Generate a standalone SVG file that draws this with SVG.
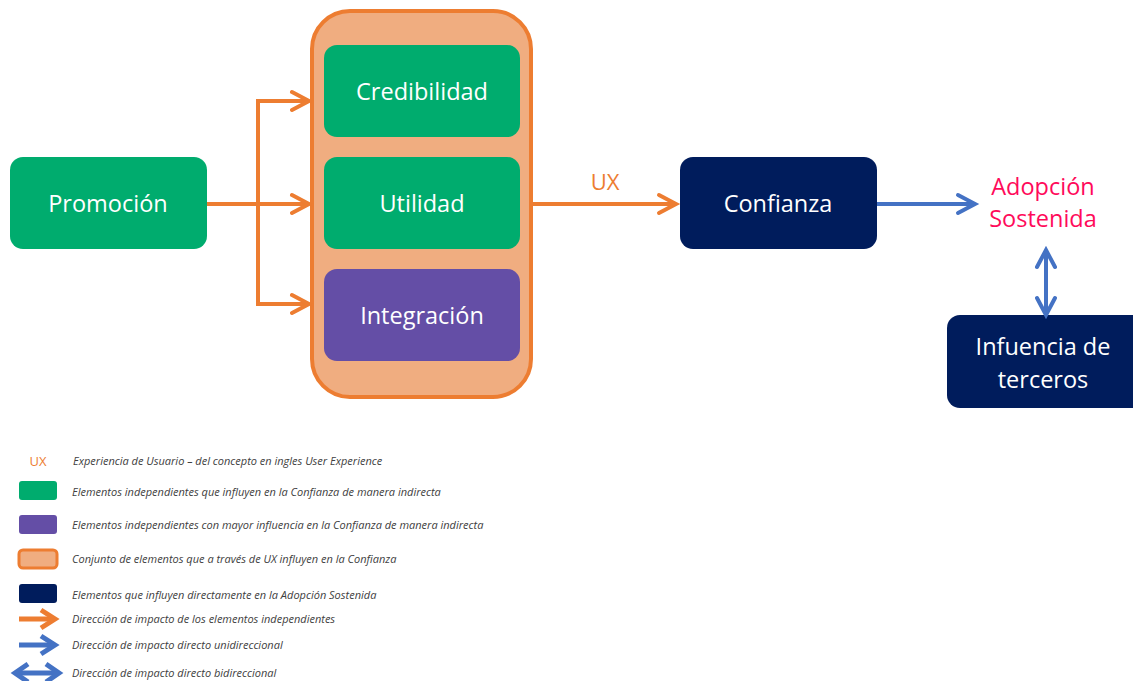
<svg xmlns="http://www.w3.org/2000/svg" width="1133" height="681" viewBox="0 0 1133 681">
<style>
.lbl{font-family:"Open Sans","Noto Sans",sans-serif;font-size:23.5px;fill:#fff;text-anchor:middle}
.green{fill:#00AC6E}
.purple{fill:#644EA6}
.navy{fill:#001C5C}
.leg{font-family:"Open Sans","Noto Sans",sans-serif;font-size:11px;font-style:italic;fill:#404040}
.oarr{stroke:#ED7D31;stroke-width:4;fill:none}
.barr{stroke:#4472C4;stroke-width:4;fill:none}
</style>
<rect width="1133" height="681" fill="#fff"/>
<g id="contenedor">
<rect x="312" y="11" width="219" height="386" rx="38" fill="#F0AD80" stroke="#ED7D31" stroke-width="4"/>
</g>
<g id="credibilidad"><rect x="324" y="45" width="196" height="92" rx="13" class="green"/><text x="422" y="100" class="lbl">Credibilidad</text></g>
<g id="utilidad"><rect x="324" y="157" width="196" height="92" rx="13" class="green"/><text x="422" y="212" class="lbl">Utilidad</text></g>
<g id="integracion"><rect x="324" y="269" width="196" height="92" rx="13" class="purple"/><text x="422" y="324" class="lbl">Integración</text></g>
<g id="promocion"><rect x="10" y="157" width="197" height="92" rx="13" class="green"/><text x="108" y="212" class="lbl">Promoción</text></g>
<g id="confianza"><rect x="680" y="157" width="197" height="92" rx="13" class="navy"/><text x="778" y="212" class="lbl">Confianza</text></g>
<g id="adopcion"><text x="1043" y="195" class="lbl" style="fill:#FF0A5A">Adopción</text><text x="1043" y="227" class="lbl" style="fill:#FF0A5A">Sostenida</text></g>
<g id="influencia"><rect x="947" y="315" width="200" height="93" rx="13" class="navy"/><text x="1043" y="355" class="lbl">Infuencia de</text><text x="1043" y="388" class="lbl">terceros</text></g>
<g id="connectors">
<path class="oarr" d="M207,204 H309 M258,204 V101 H309 M258,204 V304 H309"/>
<path class="oarr" stroke-linecap="round" d="M292,92 L309,101 L292,110 M292,195 L309,204 L292,213 M292,295 L309,304 L292,313"/>
<path class="oarr" d="M532,204 H676"/>
<path class="oarr" stroke-linecap="round" d="M659,195 L676,204 L659,213"/>
<text x="605" y="190" style="font-family:'Open Sans','Noto Sans',sans-serif;font-size:22px;fill:#ED7D31;text-anchor:middle">UX</text>
<path class="barr" d="M877,204 H975"/>
<path class="barr" stroke-linecap="round" d="M958,195 L975,204 L958,213"/>
<path class="barr" d="M1046,252 V313"/>
<path class="barr" stroke-linecap="round" d="M1037,267 L1046,250 L1055,267 M1037,298 L1046,315 L1055,298"/>
</g>
<g id="legend">
<text x="38" y="466" text-anchor="middle" style="font-family:'Open Sans','Noto Sans',sans-serif;font-size:13px;fill:#ED7D31">UX</text>
<text x="73" y="465" class="leg">Experiencia de Usuario – del concepto en ingles User Experience</text>
<rect x="19" y="481" width="38" height="19" rx="3" class="green"/>
<text x="72" y="496" class="leg">Elementos independientes que influyen en la Confianza de manera indirecta</text>
<rect x="19" y="515" width="38" height="19" rx="3" class="purple"/>
<text x="72" y="529" class="leg">Elementos independientes con mayor influencia en la Confianza de manera indirecta</text>
<rect x="19" y="550" width="38" height="18" rx="4" fill="#F0AD80" stroke="#ED7D31" stroke-width="3"/>
<text x="72" y="563" class="leg">Conjunto de elementos que a través de UX influyen en la Confianza</text>
<rect x="19" y="584" width="38" height="19" rx="3" class="navy"/>
<text x="72" y="599" class="leg">Elementos que influyen directamente en la Adopción Sostenida</text>
<path d="M19,619 H53" stroke="#ED7D31" stroke-width="5" fill="none"/>
<path d="M41,610 L55,619 L41,628" stroke="#ED7D31" stroke-width="5" fill="none"/>
<text x="72" y="623" class="leg">Dirección de impacto de los elementos independientes</text>
<path d="M19,645 H53" stroke="#4472C4" stroke-width="5" fill="none"/>
<path d="M41,636 L55,645 L41,654" stroke="#4472C4" stroke-width="5" fill="none"/>
<text x="72" y="649" class="leg">Dirección de impacto directo unidireccional</text>
<path d="M17,673 H57" stroke="#4472C4" stroke-width="5" fill="none"/>
<path d="M28,664 L15,673 L28,682 M46,664 L59,673 L46,682" stroke="#4472C4" stroke-width="5" fill="none"/>
<text x="72" y="677" class="leg">Dirección de impacto directo bidireccional</text>
</g>
</svg>
